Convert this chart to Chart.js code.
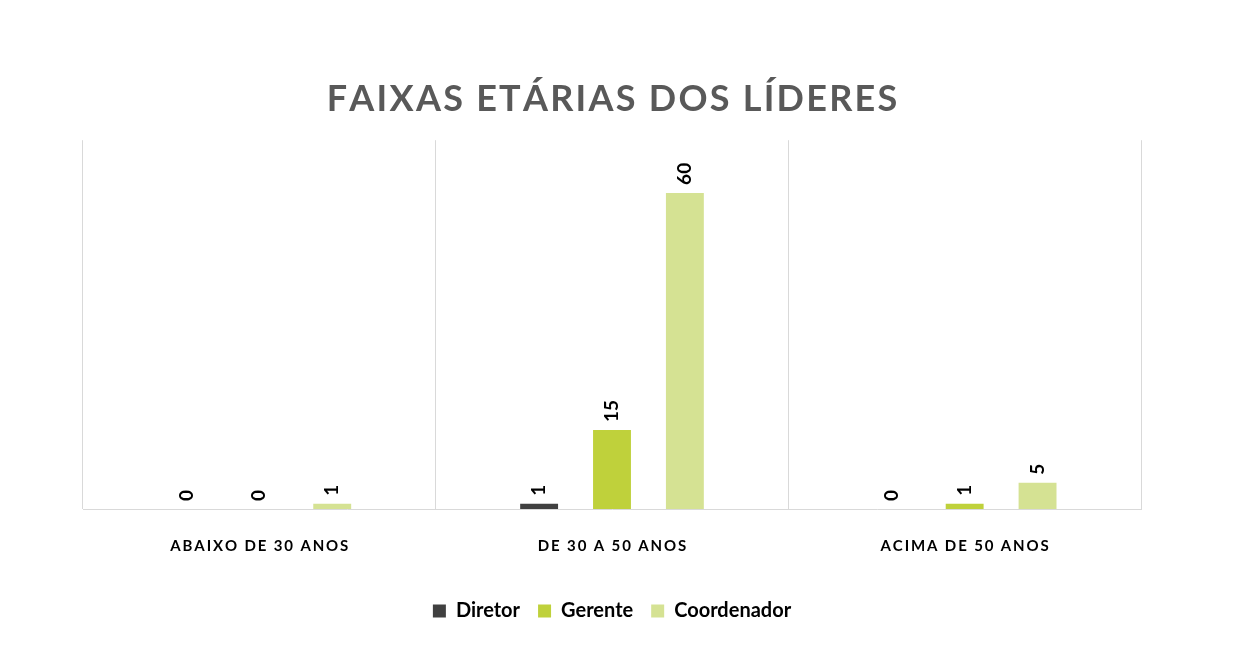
<!DOCTYPE html>
<html><head><meta charset="utf-8">
<script src="https://cdn.jsdelivr.net/npm/chart.js@4"></script>
<style>html,body{margin:0;padding:0;background:#fff}#w{width:1253px;height:663px}</style>
</head><body><div id="w"><canvas id="c"></canvas></div>
<script>
const categories = ["ABAIXO DE 30 ANOS", "DE 30 A 50 ANOS", "ACIMA DE 50 ANOS"];
const seriesNames = ["Diretor", "Gerente", "Coordenador"];
const diretor = [0, 1, 0];
const gerente = [0, 15, 1];
const coordenador = [1, 60, 5];
const colors = ["#404040", "#bfd13b", "#d5e293"];
const spaced = (s, sep) => s.split('').join(sep);

const labelPlugin = {
  id: 'vlabels',
  afterDatasetsDraw(chart) {
    const ctx = chart.ctx;
    ctx.save();
    ctx.font = 'bold 19px Lato, "Open Sans", sans-serif';
    ctx.fillStyle = '#000';
    ctx.textAlign = 'left';
    ctx.textBaseline = 'middle';
    chart.data.datasets.forEach((ds, i) => {
      chart.getDatasetMeta(i).data.forEach((bar, j) => {
        ctx.save();
        ctx.translate(bar.x, bar.y - 8);
        ctx.rotate(-Math.PI / 2);
        ctx.fillText(String(ds.data[j]), 0, 0);
        ctx.restore();
      });
    });
    ctx.restore();
  }
};

new Chart(document.getElementById('c'), {
  type: 'bar',
  data: {
    labels: categories.map(c => spaced(c, '\u2009')),
    datasets: [diretor, gerente, coordenador].map((d, i) => ({
      label: seriesNames[i], data: d, backgroundColor: colors[i],
      categoryPercentage: 0.62, barPercentage: 0.52
    }))
  },
  options: {
    responsive: true, maintainAspectRatio: false, animation: false,
    layout: { padding: { left: 83, right: 112, top: 10, bottom: 32 } },
    plugins: {
      title: { display: true, text: spaced('FAIXAS ETÁRIAS DOS LÍDERES', '\u200A'), color: '#595959',
        font: { size: 36, weight: 'bold', family: 'Lato, "Open Sans", sans-serif' },
        padding: { top: 68, bottom: 19 } },
      legend: { position: 'bottom', labels: { boxWidth: 13, boxHeight: 13, padding: 18, color: '#000',
        font: { size: 20, weight: 'bold', family: 'Lato, "Open Sans", sans-serif' } } },
      tooltip: { enabled: false }
    },
    scales: {
      x: { grid: { display: true, offset: true, color: '#d9d9d9', drawTicks: false },
        border: { color: '#d9d9d9' },
        ticks: { color: '#000', padding: 28, font: { size: 15, weight: 'bold', family: 'Lato, "Open Sans", sans-serif' } } },
      y: { min: 0, max: 70, display: false }
    }
  },
  plugins: [labelPlugin]
});
</script></body></html>
